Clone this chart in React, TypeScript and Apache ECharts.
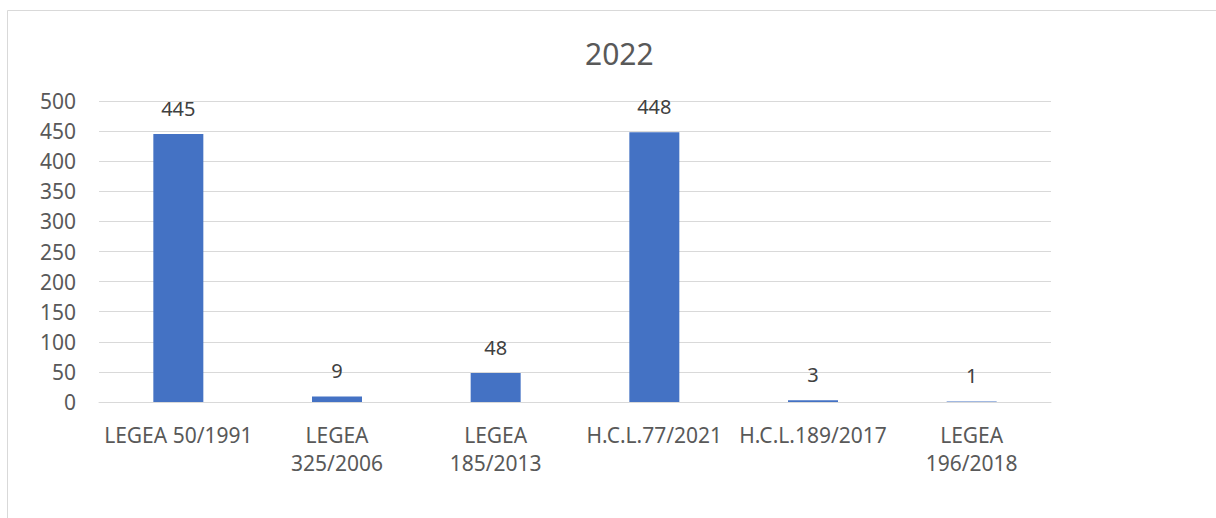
import React, { useEffect, useRef } from "react";
import * as echarts from "echarts";

const title = "2022";
const categories = [
  "LEGEA 50/1991",
  "LEGEA\n325/2006",
  "LEGEA\n185/2013",
  "H.C.L.77/2021",
  "H.C.L.189/2017",
  "LEGEA\n196/2018",
];
const values = [445, 9, 48, 448, 3, 1];
const yMin = 0;
const yMax = 500;
const yInterval = 50;

const FONT = "'Noto Sans', 'Liberation Sans', Arial, sans-serif";

export default function App() {
  const ref = useRef<HTMLDivElement>(null);
  useEffect(() => {
    if (!ref.current) return;
    const chart = echarts.init(ref.current, null, { renderer: "svg" });
    chart.setOption({
      animation: false,
      backgroundColor: "#ffffff",
      textStyle: { fontFamily: FONT },
      title: {
        text: title,
        left: 580,
        top: 33,
        textStyle: { fontFamily: FONT, fontSize: 30, fontWeight: "normal", color: "#595959" },
      },
      graphic: [
        {
          type: "rect",
          shape: { x: 7.5, y: 10.5, width: 1300, height: 600 },
          style: { fill: "none", stroke: "#d9d9d9", lineWidth: 1 },
          silent: true,
        },
      ],
      grid: { left: 99, right: 165, top: 101, bottom: 116, containLabel: false },
      xAxis: {
        type: "category",
        data: categories,
        axisLine: { show: true, lineStyle: { color: "#d9d9d9", width: 1 } },
        axisTick: { show: false },
        axisLabel: {
          interval: 0,
          margin: 19,
          fontSize: 21,
          lineHeight: 28,
          color: "#595959",
          fontFamily: FONT,
        },
      },
      yAxis: {
        type: "value",
        min: yMin,
        max: yMax,
        interval: yInterval,
        axisLine: { show: false },
        axisTick: { show: false },
        splitLine: { show: true, lineStyle: { color: "#d9d9d9", width: 1 } },
        axisLabel: { margin: 23, fontSize: 21, color: "#595959", fontFamily: FONT },
      },
      series: [
        {
          type: "bar",
          data: values,
          barWidth: 50,
          itemStyle: { color: "#4472C4" },
          label: {
            show: true,
            position: "top",
            distance: 16,
            fontSize: 20,
            color: "#404040",
            fontFamily: FONT,
          },
        },
      ],
    });
    return () => chart.dispose();
  }, []);
  return (
    <div
      ref={ref}
      style={{ position: "fixed", left: 0, top: 0, width: 1216, height: 518 }}
    />
  );
}
